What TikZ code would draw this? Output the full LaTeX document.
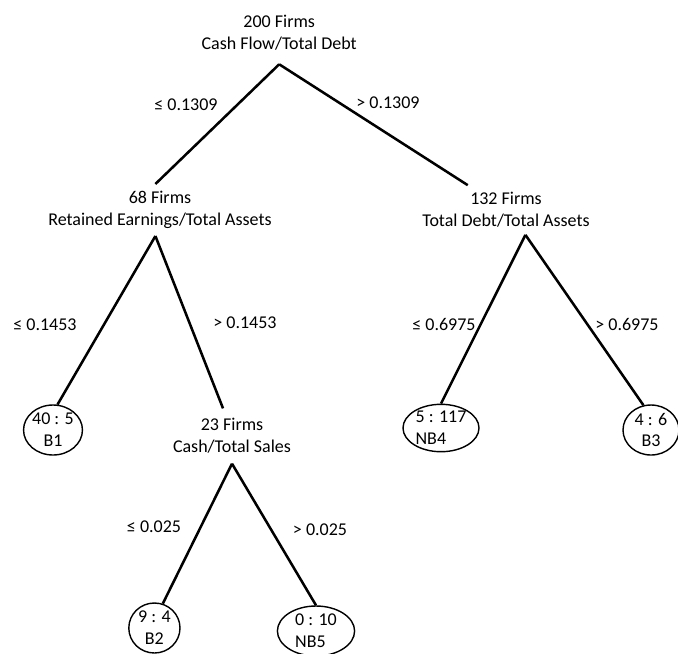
\documentclass[tikz,border=0pt]{standalone}
\usepackage{fontspec}
\setmainfont{Carlito}
\usetikzlibrary{shapes.geometric}

\begin{document}
\begin{tikzpicture}[
      font=\fontsize{12.8}{15.6}\selectfont,
      split/.style={align=center,inner xsep=2pt,inner ysep=5pt},
      leaf/.style={ellipse,draw=black,line width=1pt,align=center,inner sep=0pt},
      branch/.style={line width=1.8pt}]

      \useasboundingbox (0,0) rectangle (16.95,-16.325);

      % split nodes
      \node[split,inner ysep=10pt] (r) at (6.98,-0.81){200 Firms\\Cash Flow/Total Debt};
      \node[split] (s68) at (4.0,-5.25){68 Firms\\Retained Earnings/Total Assets};
      \node[split] (s132) at (12.65,-5.25){132 Firms\\Total Debt/Total Assets};
      \node[split,inner ysep=7pt] (s23) at (5.8,-10.9){23 Firms\\Cash/Total Sales};

      % leaves
      \node[leaf,minimum width=1.4cm,minimum height=1.25cm] (b1) at (1.325,-10.75){40 : 5\\B1};
      \node[leaf,align=left,minimum width=1.9cm,minimum height=1.18cm] (nb4) at (11.025,-10.7){5 : 117\\NB4};
      \node[leaf,minimum width=1.4cm,minimum height=1.25cm] (b3) at (16.275,-10.75){4 : 6\\B3};
      \node[leaf,minimum width=1.28cm,minimum height=1.25cm] (b2) at (3.86,-15.7){9 : 4\\B2};
      \node[leaf,align=left,minimum width=1.93cm,minimum height=1.25cm] (nb5) at (7.9,-15.775){0 : 10\\NB5};

      % branch labels
      \node (l1) at (4.65,-2.62){≤ 0.1309};
      \node (g1) at (9.7,-2.58){> 0.1309};
      \node (l2) at (1.125,-8.12){≤ 0.1453};
      \node (g2) at (6.125,-8.08){> 0.1453};
      \node (l3) at (11.1,-8.12){≤ 0.6975};
      \node (g3) at (15.675,-8.1){> 0.6975};
      \node (l4) at (3.85,-13.18){≤ 0.025};
      \node (g4) at (8.0,-13.25){> 0.025};

      \draw[branch] (r.south) -- (s68.100);
      \draw[branch] (r.south) -- (s132.147);
      \draw[branch] (s68.-100) -- (b1.80);
      \draw[branch] (s68.-100) -- (s23.108);
      \draw[branch] (s132.-52) -- (nb4.north);
      \draw[branch] (s132.-52) -- (b3.107);
      \draw[branch] (s23.south) -- (b2.71);
      \draw[branch] (s23.south) -- (nb5.north);
\end{tikzpicture}
\end{document}
